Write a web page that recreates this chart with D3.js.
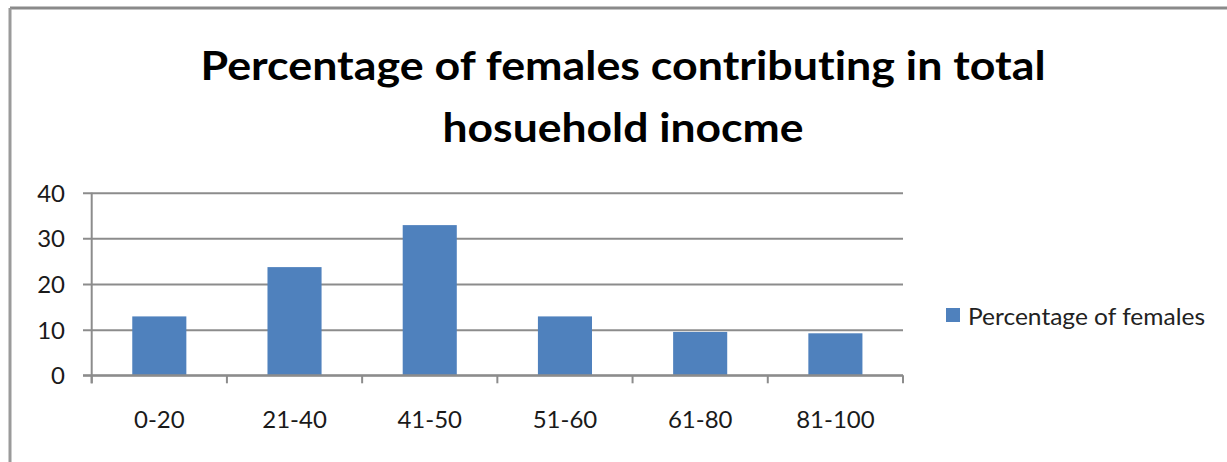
<!DOCTYPE html>
<html>
<head>
<meta charset="utf-8">
<script src="https://cdn.jsdelivr.net/npm/d3@7"></script>
<style>
  html, body { margin: 0; padding: 0; background: #fff; }
  svg { display: block; }
  svg text { font-variant-ligatures: none; font-feature-settings: "liga" 0, "clig" 0; }
</style>
</head>
<body>
<svg id="chart" width="1227" height="462"></svg>
<script>
const categories = ["0-20", "21-40", "41-50", "51-60", "61-80", "81-100"];
const values = [12.9, 23.7, 32.9, 12.9, 9.5, 9.2];
const yTicks = [0, 10, 20, 30, 40];
const seriesName = "Percentage of females";
const titleLines = ["Percentage of females contributing in total", "hosuehold inocme"];

const W = 1227, H = 462;
const svg = d3.select("#chart");
svg.append("rect").attr("width", W).attr("height", H).attr("fill", "#fff");

// outer chart border (top and left visible)
svg.append("line").attr("x1", 10).attr("x2", W).attr("y1", 8).attr("y2", 8)
  .attr("stroke", "#8a8a8a").attr("stroke-width", 3);
svg.append("line").attr("x1", 10).attr("x2", 10).attr("y1", 8).attr("y2", H)
  .attr("stroke", "#9a9a9a").attr("stroke-width", 3);

const plotL = 91.7, plotR = 903, plotT = 192.7, plotB = 375.3;

const x = d3.scaleBand().domain(categories).range([plotL, plotR])
  .paddingInner(0.6).paddingOuter(0.3);
const y = d3.scaleLinear().domain([0, 40]).range([plotB, plotT]);

const font = "Lato, 'Liberation Sans', Arial, sans-serif";
const gridColor = "#8c8c8c";

// y axis with gridlines
const yAxisG = svg.append("g").attr("transform", `translate(83,0)`)
  .call(d3.axisLeft(y).tickValues(yTicks).tickSizeInner(-(plotR - 83)).tickSizeOuter(0).tickPadding(18));
yAxisG.select(".domain").remove();
yAxisG.selectAll(".tick line").attr("stroke", gridColor).attr("stroke-width", 2);
yAxisG.selectAll(".tick text").attr("font-family", font).attr("font-size", 24)
  .attr("fill", "#1a1a1a").attr("dy", "0.35em");

// vertical axis line
svg.append("line").attr("x1", plotL).attr("x2", plotL).attr("y1", plotT).attr("y2", plotB + 8)
  .attr("stroke", gridColor).attr("stroke-width", 2);

// bars
svg.append("g").selectAll("rect").data(values).join("rect")
  .attr("x", (d, i) => x(categories[i]))
  .attr("width", x.bandwidth())
  .attr("y", d => y(d))
  .attr("height", d => y(0) - y(d))
  .attr("fill", "#4F81BD");

// category boundary ticks
const step = x.step();
const boundaries = d3.range(categories.length + 1).map(i => plotL + i * step);
svg.append("g").selectAll("line").data(boundaries).join("line")
  .attr("x1", d => d).attr("x2", d => d)
  .attr("y1", plotB).attr("y2", plotB + 8)
  .attr("stroke", gridColor).attr("stroke-width", 2);

// x axis labels
const xAxisG = svg.append("g").attr("transform", `translate(0,${plotB})`)
  .call(d3.axisBottom(x).tickSize(0).tickPadding(0));
xAxisG.select(".domain").remove();
xAxisG.selectAll(".tick text").attr("font-family", font).attr("font-size", 24)
  .attr("fill", "#1a1a1a").attr("dy", null).attr("y", 53);

// baseline on top of bars
svg.append("line").attr("x1", 83).attr("x2", plotR).attr("y1", plotB).attr("y2", plotB)
  .attr("stroke", gridColor).attr("stroke-width", 2);

// title
const titleG = svg.append("g").attr("font-family", font).attr("font-weight", "bold")
  .attr("font-size", 40).attr("fill", "#000").attr("text-anchor", "middle");
titleG.append("text").attr("x", 623).attr("y", 80).text(titleLines[0])
  .attr("textLength", 845).attr("lengthAdjust", "spacingAndGlyphs");
titleG.append("text").attr("x", 623).attr("y", 142).text(titleLines[1])
  .attr("textLength", 361).attr("lengthAdjust", "spacingAndGlyphs");

// legend
svg.append("rect").attr("x", 946).attr("y", 308).attr("width", 14).attr("height", 14)
  .attr("fill", "#4F81BD");
svg.append("text").attr("x", 968).attr("y", 325).text(seriesName)
  .attr("font-family", font).attr("font-size", 24).attr("fill", "#222")
  .attr("textLength", 237).attr("lengthAdjust", "spacingAndGlyphs");
</script>
</body>
</html>
